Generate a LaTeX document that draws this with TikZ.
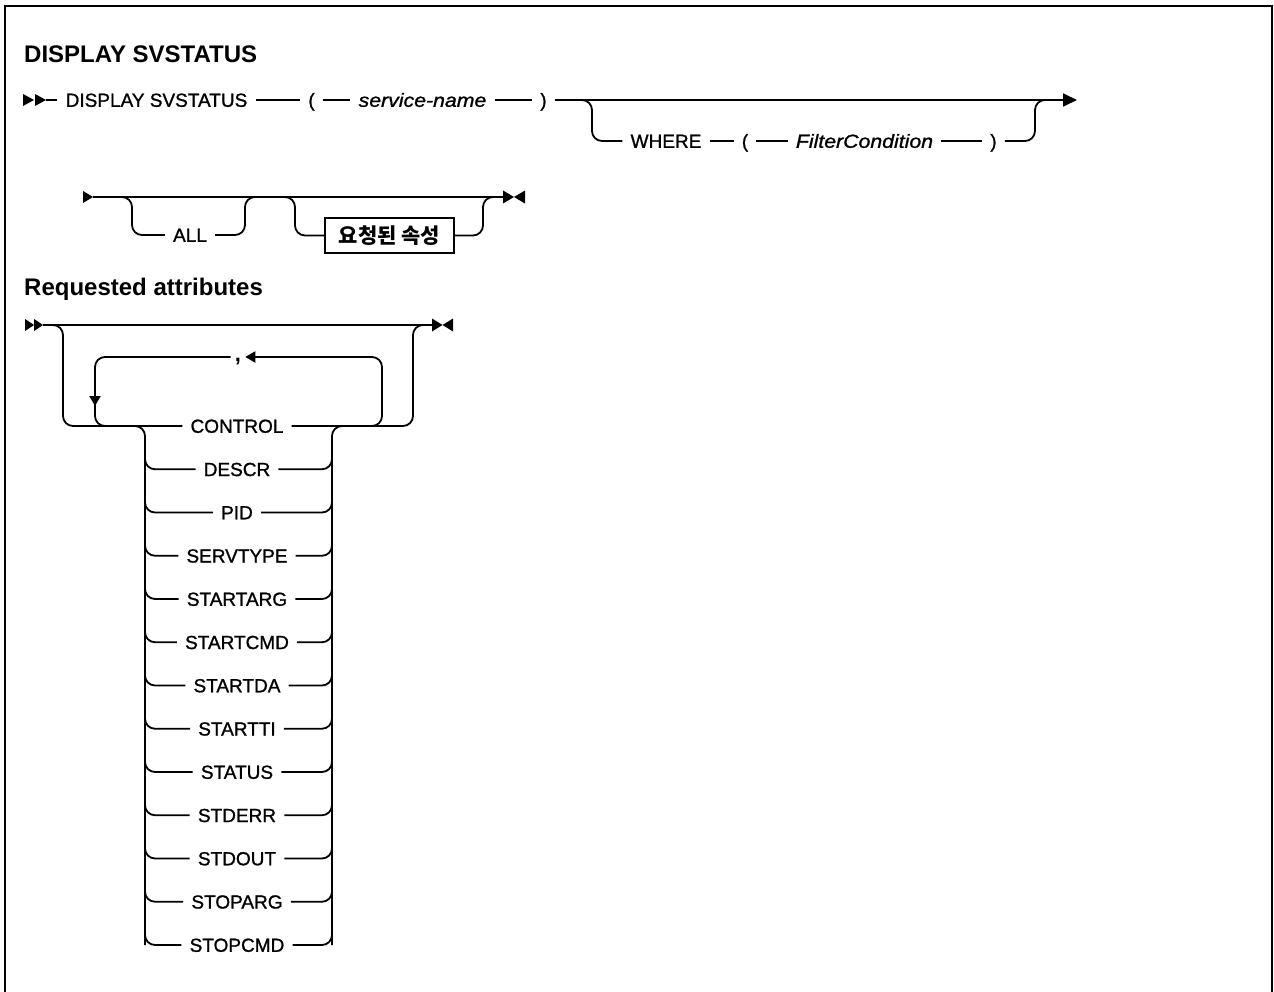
\documentclass[tikz,border=0pt]{standalone}
\usepackage{fontspec}
\setmainfont{Liberation Sans}[UprightFeatures={FakeBold=1.1},ItalicFeatures={FakeStretch=1.12,FakeBold=1.1}]
\newfontfamily\kofont{Noto Sans CJK KR}
\usetikzlibrary{arrows.meta}
\tikzset{
  rail/.style={line width=1.8pt,rounded corners=10pt},
  endtip/.style={-{Triangle[length=14pt,width=13pt]}},
  looptip/.style={-{Triangle[length=10pt,width=11pt]}},
  kw/.style={font=\fontsize{19}{19}\selectfont,inner xsep=8pt,inner ysep=0pt,text height=13.6pt,text depth=0pt},
  var/.style={kw,font=\fontsize{19}{19}\selectfont\itshape},
  heading/.style={font=\fontsize{24}{24}\selectfont\bfseries,anchor=base west,inner sep=0pt},
  attrbox/.style={draw,line width=1.8pt,minimum width=129pt,minimum height=35pt,inner sep=0pt,font=\fontsize{21}{21}\selectfont\kofont\bfseries}
}
\begin{document}
\begin{tikzpicture}[x=1pt,y=-1pt]
\useasboundingbox (0,0) rectangle (1274,992);
% frame
\draw[line width=2.5pt] (5,992) -- (5,6) -- (1272,6) -- (1272,992);
\node[heading] (head) at (24,63) {DISPLAY SVSTATUS};
% row 1 command
\fill (23,94) -- (34,100) -- (23,106) -- cycle;
\fill (35,94) -- (46,100) -- (35,106) -- cycle;
\node[kw] (disp) at (156.5,100) {DISPLAY SVSTATUS};
\node[kw] (lpa) at (311.5,100) {(};
\node[var] (svc) at (422.5,100) {service-name};
\node[kw] (rpa) at (543.5,100) {)};
\draw[rail] (46,100) -- (disp.west);
\draw[rail] (disp.east) -- (lpa.west);
\draw[rail] (lpa.east) -- (svc.west);
\draw[rail] (svc.east) -- (rpa.west);
\draw[rail,endtip] (rpa.east) -- (1077,100);
% optional where clause
\node[kw] (where) at (666,141) {WHERE};
\node[kw] (lpb) at (745,141) {(};
\node[var] (filt) at (864.5,141) {FilterCondition};
\node[kw] (rpb) at (993.5,141) {)};
\draw[rail] (582,100) -- (592,100) -- (592,141) -- (where.west);
\draw[rail] (where.east) -- (lpb.west);
\draw[rail] (lpb.east) -- (filt.west);
\draw[rail] (filt.east) -- (rpb.west);
\draw[rail] (rpb.east) -- (1035,141) -- (1035,100) -- (1045,100);
% row 2 continuation
\fill (83,191) -- (93,197) -- (83,203) -- cycle;
\draw[rail] (93,197) -- (503,197);
\fill (503,190.5) -- (514,197) -- (503,203.5) -- cycle;
\fill (525,190.5) -- (514,197) -- (525,203.5) -- cycle;
\node[kw] (all) at (190,235) {ALL};
\node[attrbox] (attr) at (389.5,235.5) {요청된 속성};
\draw[rail] (122,197) -- (132,197) -- (132,235) -- (all.west);
\draw[rail] (all.east) -- (245,235) -- (245,197) -- (255,197);
\draw[rail] (285,197) -- (295,197) -- (295,235.5) -- (attr.west);
\draw[rail] (attr.east) -- (483,235.5) -- (483,197) -- (493,197);
% requested attributes
\node[heading] (reqhead) at (24,296) {Requested attributes};
\fill (25,319) -- (34,325) -- (25,331) -- cycle;
\fill (34,319) -- (43,325) -- (34,331) -- cycle;
\draw[rail] (43,325) -- (432,325);
\fill (432,318.5) -- (442.5,325) -- (432,331.5) -- cycle;
\fill (453,318.5) -- (442.5,325) -- (453,331.5) -- cycle;
\foreach \t [count=\i from 0] in {CONTROL,DESCR,PID,SERVTYPE,STARTARG,STARTCMD,STARTDA,STARTTI,STATUS,STDERR,STDOUT,STOPARG,STOPCMD}{
  \pgfmathsetmacro{\y}{426+43.25*\i}
  \node[kw] (opt\i) at (237,\y) {\t};
}
\draw[rail] (53,325) -- (63,325) -- (63,426) -- (opt0.west);
\draw[rail] (opt0.east) -- (413,426) -- (413,325) -- (423,325);
% choice rails
\draw[rail] (135,426) -- (145,426) -- (145,945);
\draw[rail] (342,426) -- (332,426) -- (332,945);
\foreach \i in {1,...,12}{
  \pgfmathsetmacro{\y}{426+43.25*\i}
  \draw[rail] (145,\y-10) -- (145,\y) -- (opt\i.west);
  \draw[rail] (opt\i.east) -- (332,\y) -- (332,\y-10);
}
% repeat loop
\coordinate (lt) at (95,357);
\node[kw,inner xsep=4pt,font=\fontsize{22}{22}\selectfont\bfseries] (comma) at (238,355) {,};
\draw[rail,looptip] (372,426) -- (382,426) -- (382,357) -- (comma.east |- lt);
\draw[rail] (comma.west |- lt) -- (lt) -- (95,426) -- (110,426);
\draw[rail,looptip] (95,385) -- (95,406);
\end{tikzpicture}
\end{document}
